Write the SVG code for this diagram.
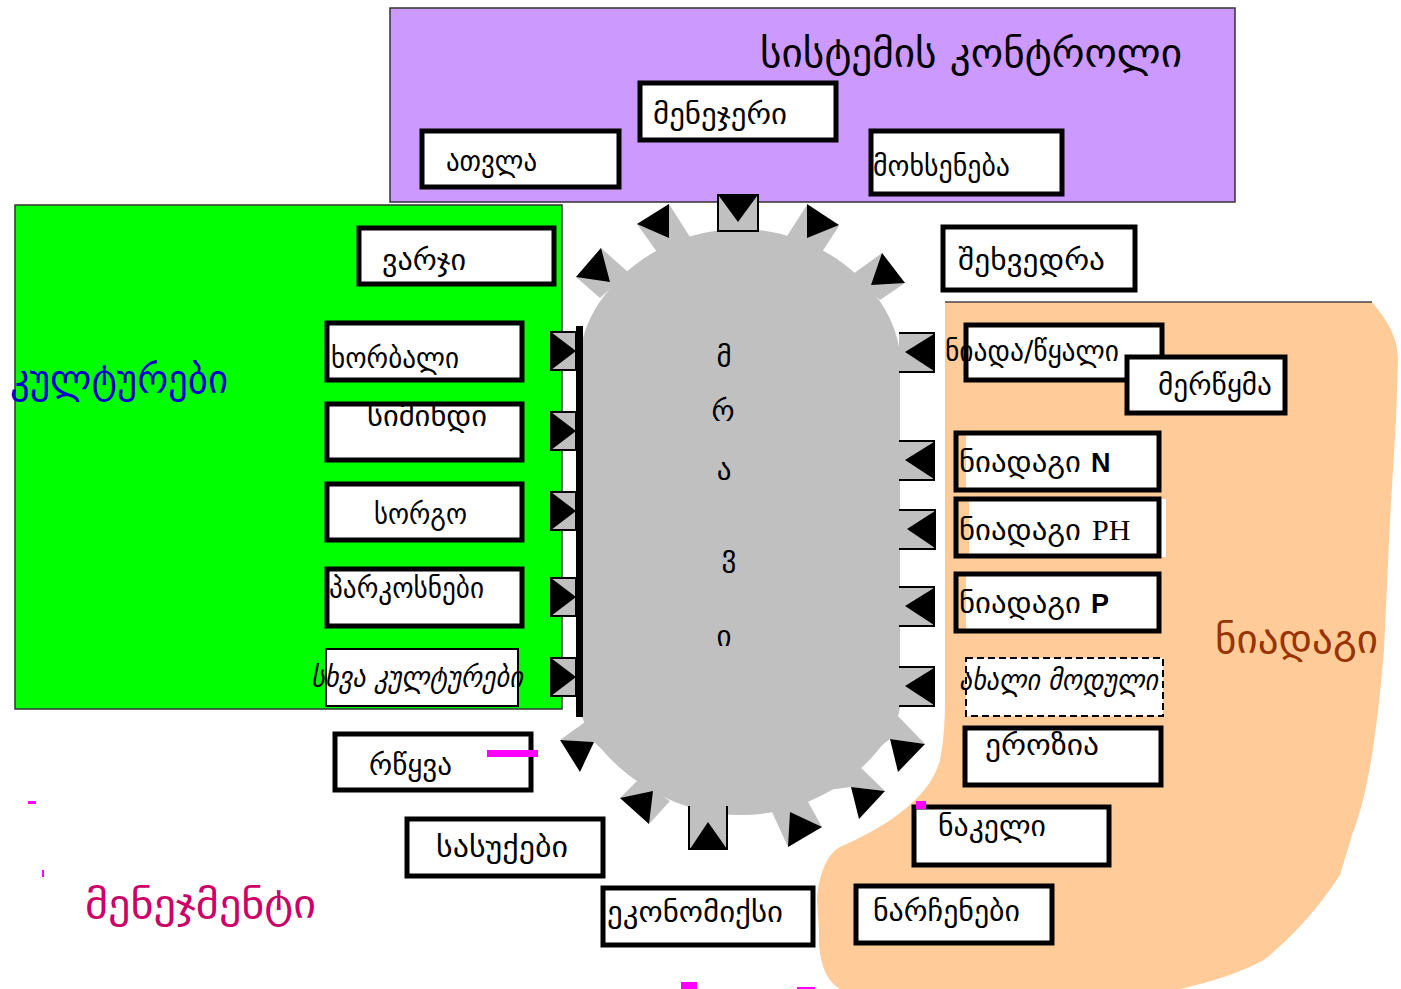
<svg xmlns="http://www.w3.org/2000/svg" width="1401" height="989" viewBox="0 0 1401 989">
<style>
.box{fill:#fff;stroke:#000;stroke-width:5}
.thin{fill:#fff;stroke:#000;stroke-width:2}
.t{font-family:"DejaVu Sans",sans-serif;font-size:29px;fill:#000}
.big{font-family:"DejaVu Sans",sans-serif;font-size:40px}
.gr{fill:#c0c0c0}
.bk{fill:#000}
.conn{fill:#c0c0c0;stroke:#000;stroke-width:2}
.mg{fill:#ff00ff}
</style>
<rect width="1401" height="989" fill="#fff"/>
<g id="region-control">
<rect x="390" y="8" width="845" height="194" fill="#cc99ff" stroke="#333" stroke-width="1.5"/>
<text class="big" x="760" y="67" fill="#000" textLength="422" lengthAdjust="spacingAndGlyphs">სისტემის კონტროლი</text>
</g>
<g id="region-crops">
<rect x="15" y="205" width="547" height="504" fill="#00ff00" stroke="#333" stroke-width="1.5"/>
<text class="big" x="10" y="393" fill="#0000cc" textLength="218" lengthAdjust="spacingAndGlyphs">კულტურები</text>
</g>
<g id="region-soil">
<path d="M945,302 L1372,302 C1385,318 1398,335 1398,360 L1396,420 L1390,520 L1384,650 C1378,720 1370,790 1352,835 L1340,875 C1320,905 1300,930 1264,960 C1245,970 1220,980 1180,989 L840,989 C825,980 818,960 819,930 L817,900 C818,880 825,855 840,847 C860,838 880,828 900,813 C920,798 935,780 940,760 C944,740 945,720 945,700 Z" fill="#ffcc99"/>
<line x1="945" y1="302" x2="1372" y2="302" stroke="#444" stroke-width="1.5"/>
<text class="big" x="1215" y="653" fill="#993300" textLength="163" lengthAdjust="spacingAndGlyphs">ნიადაგი</text>
</g>
<text class="big" x="85" y="918" fill="#cc0066" textLength="231" lengthAdjust="spacingAndGlyphs">მენეჯმენტი</text>
<g id="hub">
<path class="gr" d="M580,705 L580,360 C580,300 650,229 740,229 C830,229 900,300 900,360 L900,705 C900,735 840,815 740,815 C650,815 580,740 580,705 Z"/>
<polygon class="gr" points="600,298 576,277 601,248 628,272"/>
<polygon class="bk" points="576,277 601,248 610,282"/>
<polygon class="gr" points="657,252 637,224 669,204 690,237"/>
<polygon class="bk" points="637,224 669,204 669,238"/>
<rect class="conn" x="718" y="195" width="40" height="36"/>
<polygon class="bk" points="719,196 757,196 738,222"/>
<polygon class="gr" points="787,236 807,205 839,226 822,252"/>
<polygon class="bk" points="807,204 839,225 807,238"/>
<polygon class="gr" points="853,274 882,253 905,283 880,300"/>
<polygon class="bk" points="882,253 905,283 871,285"/>
<polygon class="gr" points="585,722 560,740 594,742 608,755"/>
<polygon class="bk" points="560,740 594,742 580,772"/>
<polygon class="gr" points="638,780 620,798 649,824 670,801"/>
<polygon class="bk" points="620,798 653,791 649,824"/>
<rect class="gr" x="689" y="800" width="38" height="49"/>
<polyline points="689,806 689,849 727,849 727,806" fill="none" stroke="#000" stroke-width="2"/>
<polygon class="bk" points="690,849 727,849 708,822"/>
<polygon class="gr" points="772,812 788,847 822,827 807,800"/>
<polygon class="bk" points="790,812 822,827 788,847"/>
<polygon class="gr" points="827,790 851,787 885,791 858,765"/>
<polygon class="bk" points="851,787 885,791 859,819"/>
<polygon class="gr" points="878,748 890,739 925,744 898,716"/>
<polygon class="bk" points="890,739 925,744 898,772"/>
<g font-family="DejaVu Sans, sans-serif" font-size="29" fill="#000" text-anchor="middle">
<text x="724" y="367">მ</text>
<text x="723" y="421">რ</text>
<text x="724" y="480">ა</text>
<text x="729" y="566">ვ</text>
<text x="724" y="646">ი</text>
</g>
</g>
<g id="connectors">
<rect x="576" y="326" width="7" height="391" fill="#000"/>
<rect class="conn" x="551" y="332" width="25" height="38"/><polygon class="bk" points="551,332 551,370 576,351"/>
<rect class="conn" x="551" y="412" width="25" height="38"/><polygon class="bk" points="551,412 551,450 576,431"/>
<rect class="conn" x="551" y="492" width="25" height="38"/><polygon class="bk" points="551,492 551,530 576,511"/>
<rect class="conn" x="551" y="578" width="25" height="38"/><polygon class="bk" points="551,578 551,616 576,597"/>
<rect class="conn" x="551" y="658" width="25" height="38"/><polygon class="bk" points="551,658 551,696 576,677"/>
<g fill="none" stroke="#000" stroke-width="2">
<rect class="gr" x="899" y="333" width="35" height="39" stroke="none"/><polyline points="899,333 934,333 934,372 899,372"/>
<rect class="gr" x="899" y="441" width="35" height="39" stroke="none"/><polyline points="899,441 934,441 934,480 899,480"/>
<rect class="gr" x="899" y="510" width="36" height="39" stroke="none"/><polyline points="899,510 935,510 935,549 899,549"/>
<rect class="gr" x="899" y="587" width="35" height="39" stroke="none"/><polyline points="899,587 934,587 934,626 899,626"/>
<rect class="gr" x="899" y="667" width="35" height="39" stroke="none"/><polyline points="899,667 934,667 934,706 899,706"/>
</g>
<polygon class="bk" points="934,334 934,371 905,352"/>
<polygon class="bk" points="934,442 934,479 905,460"/>
<polygon class="bk" points="935,511 935,548 907,529"/>
<polygon class="bk" points="934,588 934,625 905,606"/>
<polygon class="bk" points="934,668 934,705 905,686"/>
</g>
<g id="n-menejeri"><rect class="box" x="640" y="83" width="196" height="57"/><text class="t" x="653" y="124" textLength="134" lengthAdjust="spacingAndGlyphs">მენეჯერი</text></g>
<g id="n-atvla"><rect class="box" x="422" y="131" width="197" height="56"/><text class="t" x="446" y="171" textLength="91" lengthAdjust="spacingAndGlyphs">ათვლა</text></g>
<g id="n-mokhseneba"><rect class="box" x="871" y="131" width="191" height="63"/><text class="t" x="873" y="176" textLength="137" lengthAdjust="spacingAndGlyphs">მოხსენება</text></g>
<g id="n-shekhvedra"><rect class="box" x="943" y="227" width="192" height="63"/><text class="t" x="958" y="270" textLength="147" lengthAdjust="spacingAndGlyphs">შეხვედრა</text></g>
<g id="n-varji"><rect class="box" x="359" y="228" width="195" height="56"/><text class="t" x="382" y="270" textLength="84" lengthAdjust="spacingAndGlyphs">ვარჯი</text></g>
<g id="n-khorbali"><rect class="box" x="327" y="323" width="195" height="57"/><text class="t" x="331" y="368" textLength="128" lengthAdjust="spacingAndGlyphs">ხორბალი</text></g>
<g id="n-simindi"><rect class="box" x="327" y="404" width="195" height="56"/><text class="t" x="367" y="426" textLength="120" lengthAdjust="spacingAndGlyphs">სიმინდი</text></g>
<g id="n-sorgo"><rect class="box" x="327" y="484" width="195" height="56"/><text class="t" x="374" y="524" textLength="93" lengthAdjust="spacingAndGlyphs">სორგო</text></g>
<g id="n-parkosnebi"><rect class="box" x="327" y="569" width="195" height="57"/><text class="t" x="329" y="598" textLength="155" lengthAdjust="spacingAndGlyphs">პარკოსნები</text></g>
<g id="n-skhva"><rect class="thin" x="326" y="649" width="192" height="57"/><text class="t" x="311" y="687" font-style="italic" textLength="212" lengthAdjust="spacingAndGlyphs">სხვა კულტურები</text></g>
<g id="n-niada-wyali"><rect class="box" x="966" y="325" width="196" height="55"/><text class="t" x="945" y="361" textLength="174" lengthAdjust="spacingAndGlyphs">ნიადა/წყალი</text></g>
<g id="n-merwyma"><rect class="box" x="1127" y="357" width="158" height="56"/><text class="t" x="1158" y="395" textLength="114" lengthAdjust="spacingAndGlyphs">მერწყმა</text></g>
<g id="n-niadagi-n"><rect x="966" y="433" width="192" height="57" fill="#fff"/><rect x="956" y="433" width="203" height="57" fill="none" stroke="#000" stroke-width="5"/><text class="t" x="959" y="472" textLength="122" lengthAdjust="spacingAndGlyphs">ნიადაგი</text><text x="1091" y="472" font-family="Liberation Sans, sans-serif" font-weight="bold" font-size="27">N</text></g>
<g id="n-niadagi-ph"><rect x="969" y="499" width="197" height="58" fill="#fff"/><rect x="956" y="499" width="203" height="57" fill="none" stroke="#000" stroke-width="5"/><text class="t" x="959" y="540" textLength="122" lengthAdjust="spacingAndGlyphs">ნიადაგი</text><text x="1092" y="540" font-family="Liberation Serif, serif" font-size="30">PH</text></g>
<g id="n-niadagi-p"><rect x="966" y="574" width="193" height="58" fill="#fff"/><rect x="956" y="574" width="203" height="57" fill="none" stroke="#000" stroke-width="5"/><text class="t" x="959" y="613" textLength="122" lengthAdjust="spacingAndGlyphs">ნიადაგი</text><text x="1091" y="613" font-family="Liberation Sans, sans-serif" font-weight="bold" font-size="27">P</text></g>
<g id="n-akhali"><rect x="966" y="658" width="197" height="58" fill="#fff" stroke="#000" stroke-width="2" stroke-dasharray="7,4"/><text class="t" x="959" y="690" font-style="italic" textLength="199" lengthAdjust="spacingAndGlyphs">ახალი მოდული</text></g>
<g id="n-erozia"><rect class="box" x="965" y="728" width="196" height="57"/><text class="t" x="985" y="755" textLength="114" lengthAdjust="spacingAndGlyphs">ეროზია</text></g>
<g id="n-rwyva"><rect class="box" x="335" y="734" width="196" height="56"/><text class="t" x="369" y="775" textLength="83" lengthAdjust="spacingAndGlyphs">რწყვა</text></g>
<g id="n-sasukebi"><rect class="box" x="407" y="819" width="196" height="57"/><text class="t" x="436" y="857" textLength="132" lengthAdjust="spacingAndGlyphs">სასუქები</text></g>
<g id="n-ekonomiksi"><rect class="box" x="603" y="888" width="210" height="57"/><text class="t" x="607" y="922" textLength="176" lengthAdjust="spacingAndGlyphs">ეკონომიქსი</text></g>
<g id="n-nakeli"><rect class="box" x="914" y="807" width="195" height="58"/><text class="t" x="938" y="836" textLength="108" lengthAdjust="spacingAndGlyphs">ნაკელი</text></g>
<g id="n-narchenebi"><rect class="box" x="856" y="886" width="196" height="57"/><text class="t" x="873" y="921" textLength="147" lengthAdjust="spacingAndGlyphs">ნარჩენები</text></g>
<g id="marks">
<rect class="mg" x="487" y="750" width="51" height="7"/>
<rect class="mg" x="28" y="801" width="8" height="3"/>
<rect class="mg" x="42" y="870" width="2" height="7"/>
<rect class="mg" x="916" y="801" width="10" height="8"/>
<rect class="mg" x="681" y="982" width="16" height="7"/>
<rect class="mg" x="797" y="987" width="18" height="2"/>
</g>
</svg>
